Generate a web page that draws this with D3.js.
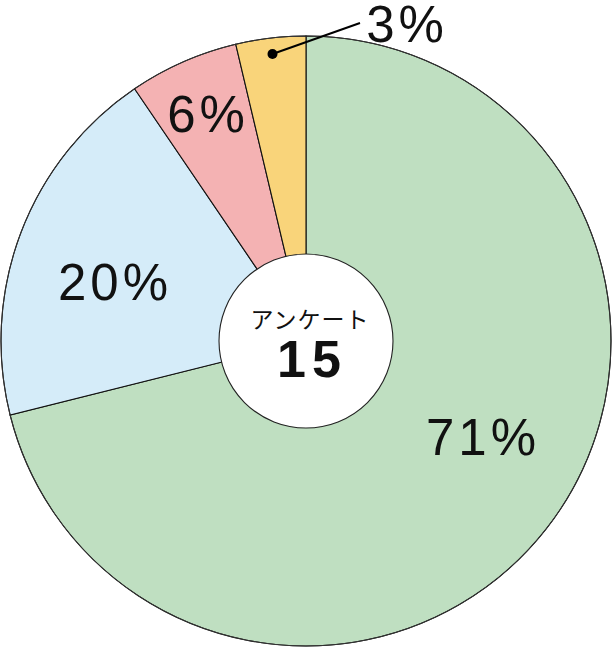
<!DOCTYPE html>
<html><head><meta charset="utf-8">
<script src="https://cdn.jsdelivr.net/npm/d3@7"></script>
<style>html,body{margin:0;padding:0;background:#fff;}svg{display:block;}</style>
</head><body>
<svg id="c" width="612" height="647"></svg>
<script>
const categories = ["A", "B", "C", "D"];
const values = [71.1, 19.4, 5.8, 3.7];
const labels = ["71%", "20%", "6%", "3%"];
const colors = ["#bfdfc1", "#d5ecf9", "#f4b2b3", "#f9d47a"];
const centerTitle = "アンケート";
const centerNumber = "15";

const W = 612, H = 647;
const cx = 306, cy = 341, R = 305, r0 = 87;
// label anchor positions (layout)
const labelPos = [[483, 455], [115, 300], [208, 132], [407, 42]];

const svg = d3.select("#c");
const g = svg.append("g").attr("transform", `translate(${cx},${cy})`);
const pie = d3.pie().sort(null).value(d => d)(values);
const arc = d3.arc().innerRadius(0).outerRadius(R);

g.selectAll("path.slice").data(pie).enter().append("path")
  .attr("class", "slice")
  .attr("d", arc)
  .attr("fill", (d, i) => colors[i])
  .attr("stroke", "#111")
  .attr("stroke-width", 1.1);

g.append("circle").attr("r", R).attr("fill", "none").attr("stroke", "#333").attr("stroke-width", 1);

g.append("circle").attr("r", r0).attr("fill", "#fff").attr("stroke", "#222").attr("stroke-width", 1.1);

// Labels
const font = "'Liberation Sans', Arial, sans-serif";
svg.selectAll("text.lab").data(labels).enter().append("text")
  .attr("class", "lab")
  .attr("x", (d, i) => labelPos[i][0])
  .attr("y", (d, i) => labelPos[i][1])
  .attr("text-anchor", "middle")
  .attr("font-family", font)
  .attr("font-size", 51)
  .attr("letter-spacing", 4)
  .attr("fill", "#111")
  .text(d => d);

// Leader for the small slice
const small = pie[3];
const midA = (small.startAngle + small.endAngle) / 2;
const dotR = R - 16;
const dx = Math.sin(midA) * dotR, dy = -Math.cos(midA) * dotR;
g.append("circle").attr("cx", dx).attr("cy", dy).attr("r", 5).attr("fill", "#000");
g.append("line").attr("x1", dx).attr("y1", dy)
  .attr("x2", 360 - cx).attr("y2", 23 - cy)
  .attr("stroke", "#000").attr("stroke-width", 2);

// Center text
g.append("text").attr("x", 4).attr("y", -13).attr("text-anchor", "middle")
  .attr("font-family", "'Noto Sans CJK JP', sans-serif").attr("font-size", 23)
  .attr("letter-spacing", 1)
  .attr("fill", "#111").text(centerTitle);
g.append("text").attr("x", 6).attr("y", 36).attr("text-anchor", "middle")
  .attr("font-family", font).attr("font-weight", "bold").attr("font-size", 52)
  .attr("letter-spacing", 6)
  .attr("fill", "#111").text(centerNumber);
</script>
</body></html>
